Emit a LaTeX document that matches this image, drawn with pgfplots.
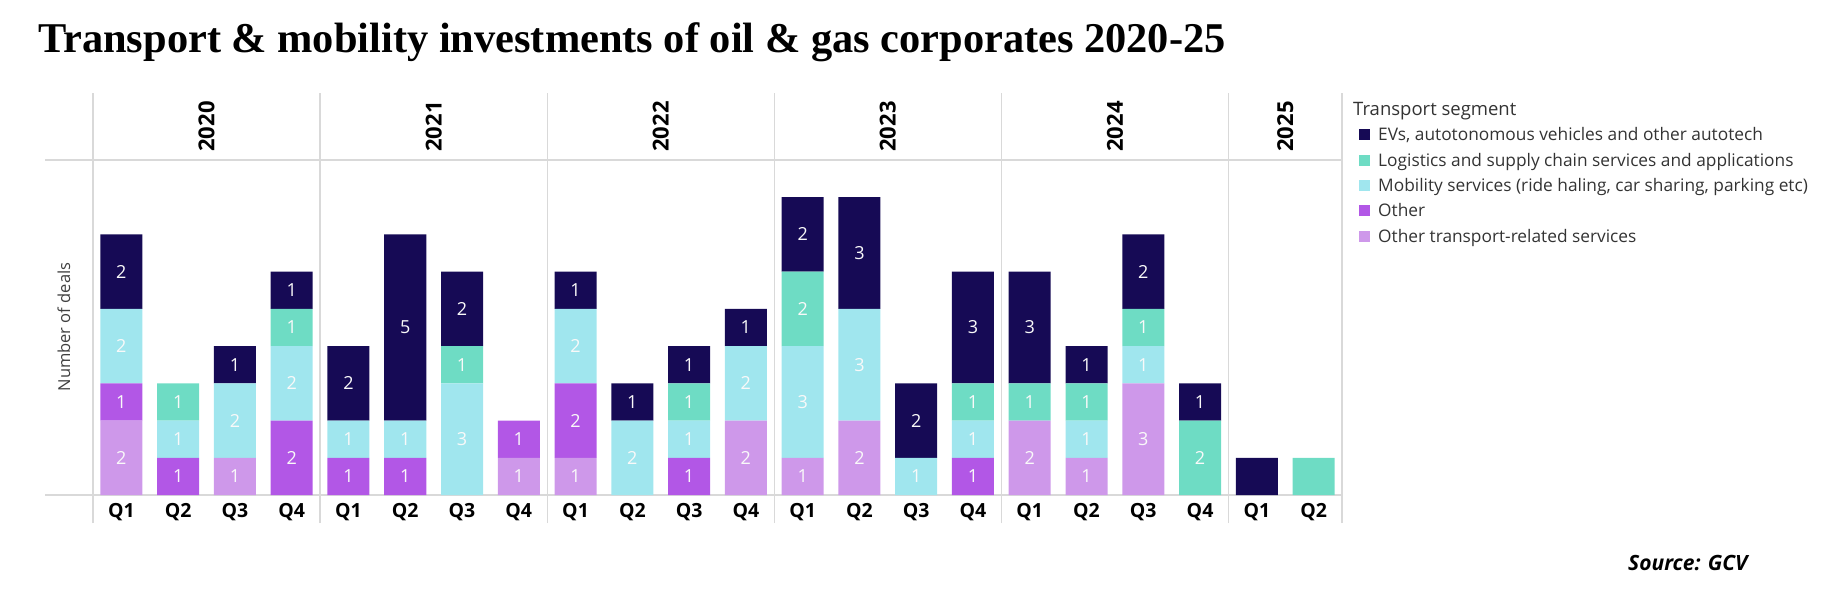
\documentclass[border=0pt]{standalone}
\usepackage{pgfplots}
\pgfplotsset{compat=1.18}
\usepackage{pgfplotstable}
\usepackage{fontspec}
\setmainfont{Open Sans}
\newfontfamily\titlefont{Liberation Serif}
\definecolor{cEV}{HTML}{160A55}
\definecolor{cLog}{HTML}{6EDCC4}
\definecolor{cMob}{HTML}{A0E6EE}
\definecolor{cOth}{HTML}{B257E6}
\definecolor{cOTR}{HTML}{CE98EA}
\definecolor{gridc}{HTML}{D9D9D9}
\pgfplotstableread{
x OTR Oth Mob Log EV
0 2 1 2 0 2
1 0 1 1 1 0
2 1 0 2 0 1
3 0 2 2 1 1
4 0 1 1 0 2
5 0 1 1 0 5
6 0 0 3 1 2
7 1 1 0 0 0
8 1 2 2 0 1
9 0 0 2 0 1
10 0 1 1 1 1
11 2 0 2 0 1
12 1 0 3 2 2
13 2 0 3 0 3
14 0 0 1 0 2
15 0 1 1 1 3
16 2 0 0 1 3
17 1 0 1 1 1
18 3 0 1 1 2
19 0 0 0 2 1
20 0 0 0 0 1
21 0 0 0 1 0
}\deals
\pgfplotsset{lbl/.style={point meta={\thisrow{x}<20 ? \thisrow{#1} : 0}}}
\begin{document}
\begin{tikzpicture}[x=1pt,y=1pt]
\path[use as bounding box] (0,0) rectangle (1826,603);
% grid lines
\foreach \gx in {93,320.1,547.2,774.3,1001.4,1228.5,1342} {
  \draw[gridc, line width=1.3pt] (\gx,80) -- (\gx,510);
}
\draw[gridc, line width=1.3pt] (45,443) -- (1342,443);
\draw[gridc, line width=1.3pt] (45,108) -- (1342,108);
% title
\node[anchor=base west, inner sep=0pt] at (38,550) {\titlefont\bfseries\fontsize{42.4}{50}\selectfont Transport \& mobility investments of oil \& gas corporates 2020-25};
\begin{axis}[
  at={(93pt,108pt)}, anchor=south west,
  width=1249pt, height=335pt, scale only axis,
  xmin=-0.5, xmax=21.5, ymin=0, ymax=9,
  ybar stacked, bar width=42pt,
  axis line style={draw=none},
  ytick=\empty,
  xtick={0,...,21},
  xticklabels={Q1,Q2,Q3,Q4,Q1,Q2,Q3,Q4,Q1,Q2,Q3,Q4,Q1,Q2,Q3,Q4,Q1,Q2,Q3,Q4,Q1,Q2},
  xtick style={draw=none},
  xticklabel style={anchor=base, yshift=-22pt, font=\bfseries\fontsize{19.5}{23}\selectfont},
  clip=false,
  /pgf/number format/assume math mode=true,
  nodes near coords={\pgfmathfloatifflags{\pgfplotspointmeta}{0}{}{\pgfmathprintnumber{\pgfplotspointmeta}}},
  every node near coord/.style={anchor=center, text=white!95!gray, font=\fontsize{18}{22}\selectfont},
]
\addplot[fill=cOTR, draw=none, lbl=OTR] table[x=x, y=OTR] {\deals};
\addplot[fill=cOth, draw=none, lbl=Oth] table[x=x, y=Oth] {\deals};
\addplot[fill=cMob, draw=none, lbl=Mob] table[x=x, y=Mob] {\deals};
\addplot[fill=cLog, draw=none, lbl=Log] table[x=x, y=Log] {\deals};
\addplot[fill=cEV, draw=none, lbl=EV] table[x=x, y=EV] {\deals};
\node[rotate=90, anchor=center, font=\bfseries\fontsize{22}{26}\selectfont] at (axis cs:1.5,9.9) {2020};
\node[rotate=90, anchor=center, font=\bfseries\fontsize{22}{26}\selectfont] at (axis cs:5.5,9.9) {2021};
\node[rotate=90, anchor=center, font=\bfseries\fontsize{22}{26}\selectfont] at (axis cs:9.5,9.9) {2022};
\node[rotate=90, anchor=center, font=\bfseries\fontsize{22}{26}\selectfont] at (axis cs:13.5,9.9) {2023};
\node[rotate=90, anchor=center, font=\bfseries\fontsize{22}{26}\selectfont] at (axis cs:17.5,9.9) {2024};
\node[rotate=90, anchor=center, font=\bfseries\fontsize{22}{26}\selectfont] at (axis cs:20.5,9.9) {2025};
\end{axis}
% y label
\node[rotate=90, text=black!75, font=\fontsize{16.5}{20}\selectfont] at (64,276) {Number of deals};
% legend
\node[anchor=base west, inner sep=0pt, text=black!80, font=\fontsize{18.5}{22}\selectfont] at (1353,487) {Transport segment};
\fill[cEV]  (1359,462.5) rectangle (1370,473.5);
\fill[cLog] (1359,436.5) rectangle (1370,447.5);
\fill[cMob] (1359,411.5) rectangle (1370,422.5);
\fill[cOth] (1359,386.5) rectangle (1370,397.5);
\fill[cOTR] (1359,360.5) rectangle (1370,371.5);
\begin{scope}[every node/.style={anchor=base west, inner sep=0pt, text=black!80, font=\fontsize{17.3}{20}\selectfont}]
\node at (1378,462.0) {EVs, autotonomous vehicles and other autotech};
\node at (1378,436.0) {Logistics and supply chain services and applications};
\node at (1378,411.0) {Mobility services (ride haling, car sharing, parking etc)};
\node at (1378,386.0) {Other};
\node at (1378,360.0) {Other transport-related services};
\end{scope}
% source
\node[anchor=base west, inner sep=0pt, font=\bfseries\itshape\fontsize{21}{25}\selectfont] at (1628,32.5) {Source: GCV};
\end{tikzpicture}
\end{document}
